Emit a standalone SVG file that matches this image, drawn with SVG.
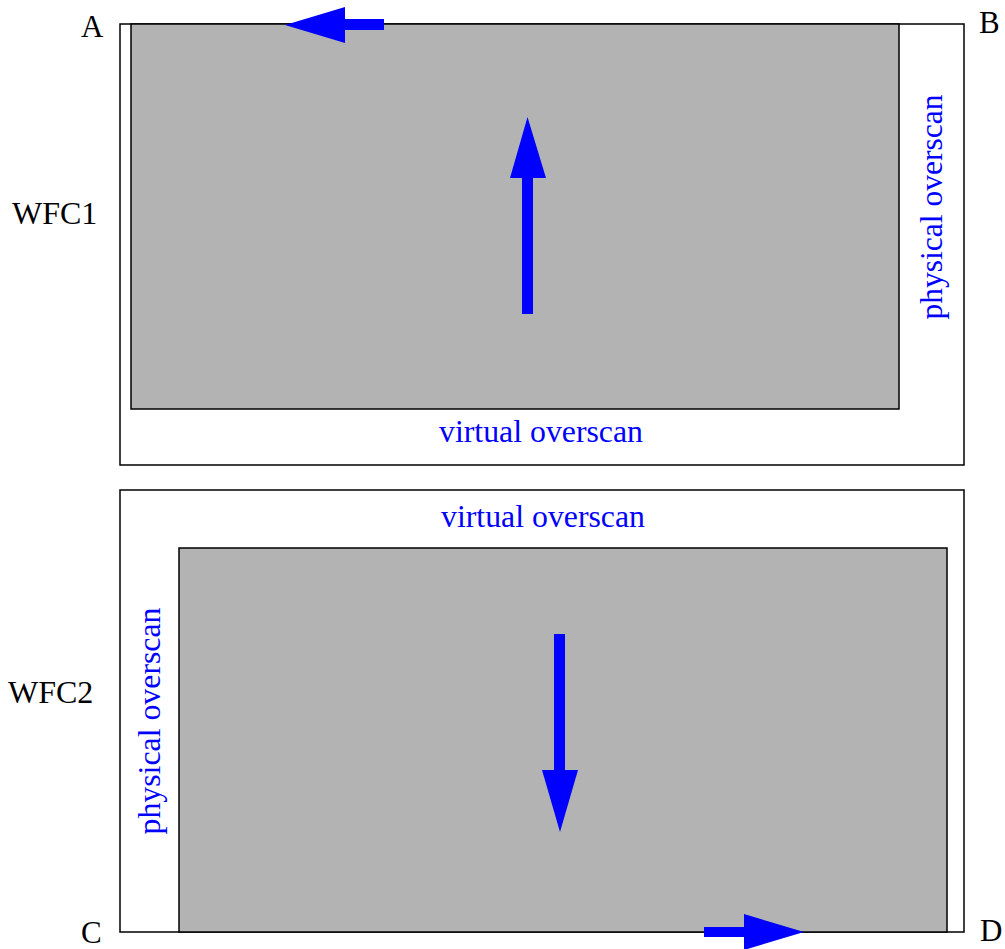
<svg xmlns="http://www.w3.org/2000/svg" width="1005" height="949" viewBox="0 0 1005 949">
<style>
.frame{fill:#ffffff;stroke:#000000;stroke-width:1.5}
.gray{fill:#b3b3b3;stroke:#000000;stroke-width:1.5}
.lbl{font-family:"Liberation Serif","Times New Roman",serif;font-size:31px;fill:#000000}
.wfc{font-family:"Liberation Serif","Times New Roman",serif;font-size:32px;fill:#000000}
.blue{font-family:"Liberation Serif","Times New Roman",serif;font-size:32px;fill:#0000ff}
.arrow{fill:#0000ff;stroke:none}
</style>
<rect width="1005" height="949" fill="#ffffff"/>
<g id="wfc1">
  <rect class="frame" x="120" y="24" width="844" height="441"/>
  <rect class="gray" x="131" y="24" width="768" height="385"/>
  <text class="blue" x="541" y="442" text-anchor="middle" textLength="204" lengthAdjust="spacingAndGlyphs">virtual overscan</text>
  <text class="blue" transform="translate(942 207) rotate(-90)" text-anchor="middle" textLength="225" lengthAdjust="spacingAndGlyphs">physical overscan</text>
</g>
<g id="wfc2">
  <rect class="frame" x="120" y="490" width="844" height="442"/>
  <rect class="gray" x="179" y="548" width="768" height="384"/>
  <text class="blue" x="543" y="527" text-anchor="middle" textLength="204" lengthAdjust="spacingAndGlyphs">virtual overscan</text>
  <text class="blue" transform="translate(160 721) rotate(-90)" text-anchor="middle" textLength="227" lengthAdjust="spacingAndGlyphs">physical overscan</text>
</g>
<g id="labels">
  <text class="lbl" x="81" y="37">A</text>
  <text class="lbl" x="979" y="33">B</text>
  <text class="lbl" x="81" y="943">C</text>
  <text class="lbl" x="980" y="941">D</text>
  <text class="wfc" x="12" y="224">WFC1</text>
  <text class="wfc" x="8" y="703">WFC2</text>
</g>
<g id="connectors">
  <polygon class="arrow" points="285,25 345,7 345,19 384,19 384,30 345,30 345,43"/>
  <polygon class="arrow" points="527.5,117 546,178 533,178 533,314 522,314 522,178 510,178"/>
  <polygon class="arrow" points="560,832 578,770 565,770 565,634 554,634 554,770 542,770"/>
  <polygon class="arrow" points="804,932 744,914 744,927 704,927 704,937 744,937 744,950"/>
</g>
</svg>
